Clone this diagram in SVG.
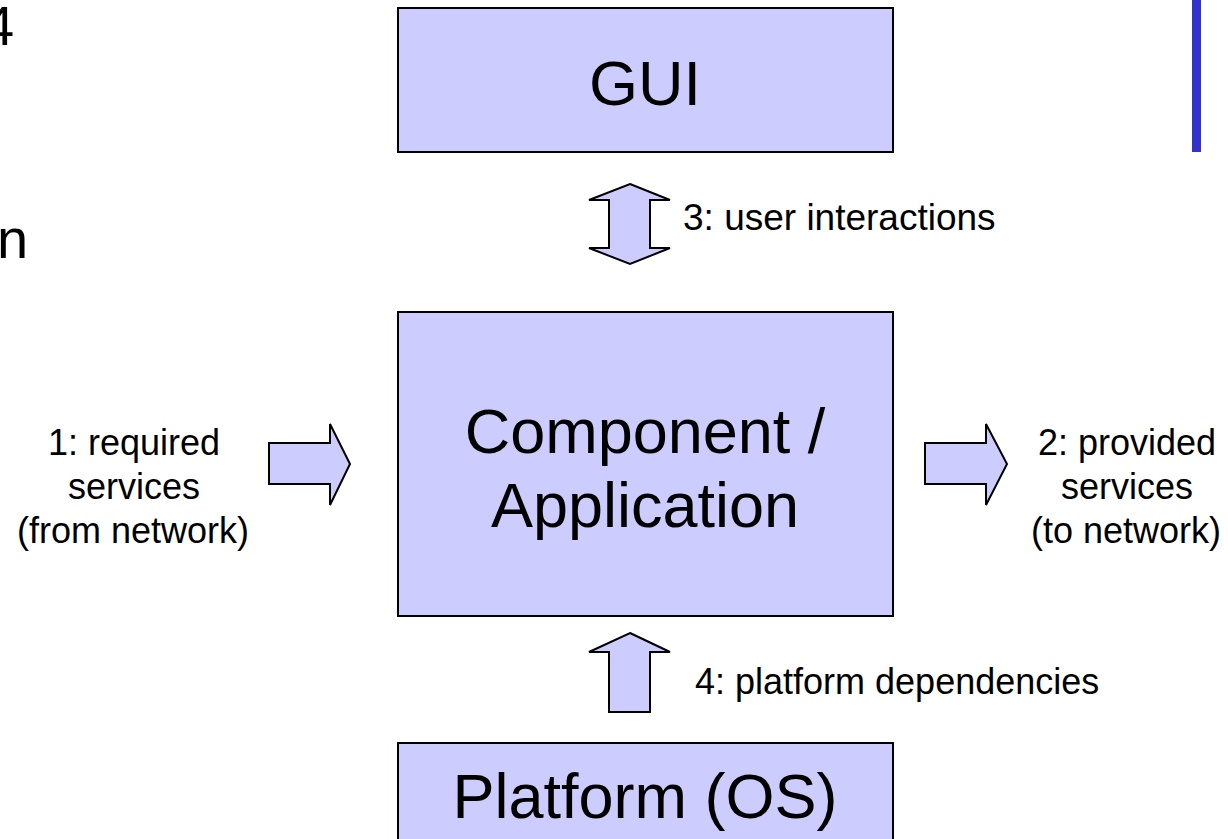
<svg xmlns="http://www.w3.org/2000/svg" width="1228" height="839" viewBox="0 0 1228 839">
  <style>
    .box { fill: #ccccff; stroke: #000; stroke-width: 2; }
    .arrow { fill: #ccccff; stroke: #000; stroke-width: 2; stroke-linejoin: miter; }
    .big { font-family: "Liberation Sans", Arial, sans-serif; font-size: 63px; fill: #000; text-anchor: middle; }
    .label { font-family: "Liberation Sans", Arial, sans-serif; font-size: 36px; fill: #000; }
    .mid { text-anchor: middle; }
    .slide { font-family: "Liberation Sans", Arial, sans-serif; font-size: 56px; fill: #000; }
  </style>
  <rect width="1228" height="839" fill="#ffffff"/>

  <!-- slide fragments at the edges -->
  <text class="slide" x="-17" y="45">4</text>
  <text class="slide" x="-3" y="258">n</text>
  <rect x="1192" y="0" width="9" height="152" fill="#3333cc"/>

  <g id="gui">
    <rect class="box" x="398" y="8" width="495" height="144"/>
    <text class="big" x="645" y="105">GUI</text>
  </g>

  <g id="component">
    <rect class="box" x="398" y="312" width="495" height="304"/>
    <text class="big" x="645" y="453">Component /</text>
    <text class="big" x="645" y="527">Application</text>
  </g>

  <g id="platform">
    <rect class="box" x="398" y="743" width="495" height="110"/>
    <text class="big" x="645" y="818">Platform (OS)</text>
  </g>

  <g id="connectors">
    <!-- 3: user interactions (two-way) -->
    <polygon class="arrow" points="630,184 670,200 650,200 650,248 670,248 630,264 589,248 609,248 609,200 589,200"/>
    <!-- 1: required services -->
    <polygon class="arrow" points="269,443 330,443 330,424 350,464 330,505 330,484 269,484"/>
    <!-- 2: provided services -->
    <polygon class="arrow" points="925,443 986,443 986,424 1007,464 986,505 986,484 925,484"/>
    <!-- 4: platform dependencies -->
    <polygon class="arrow" points="630,633 670,652 650,652 650,712 609,712 609,652 589,652"/>
  </g>

  <g id="labels">
    <text class="label" x="683" y="230" style="font-size:37px">3: user interactions</text>
    <text class="label" x="695" y="694">4: platform dependencies</text>
    <text class="label mid" x="134" y="455">1: required</text>
    <text class="label mid" x="134" y="499">services</text>
    <text class="label mid" x="133" y="543">(from network)</text>
    <text class="label mid" x="1127" y="455">2: provided</text>
    <text class="label mid" x="1127" y="499">services</text>
    <text class="label mid" x="1126" y="543">(to network)</text>
  </g>
</svg>
